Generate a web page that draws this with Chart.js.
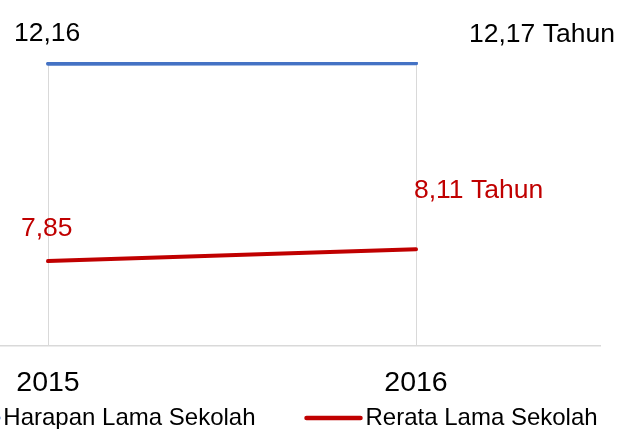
<!DOCTYPE html>
<html>
<head>
<meta charset="utf-8">
<script src="https://cdn.jsdelivr.net/npm/chart.js@4.4.1/dist/chart.umd.min.js"></script>
<style>
body { margin: 0; background: #fff; overflow: hidden; }
#wrap { position: absolute; left: -140px; top: 0; width: 760px; height: 429px; }
</style>
</head>
<body>
<div id="wrap"><canvas id="myChart"></canvas></div>
<script>
let years = ['2015', '2016'];
let seriesNames = ['Harapan Lama Sekolah', 'Rerata Lama Sekolah'];
let harapan = [12.16, 12.17];
let rerata = [7.85, 8.11];
let yMin = 6;
let yMax = 12.2;
let unit = ' Tahun';

let blue = '#4472C4';
let red = '#C00000';
let fontName = '"Liberation Sans", Arial, sans-serif';

// labels in the reference are placed by hand, so keep an offset per point
let labelOffsets = [
    [[-34, -23], [53, -21]],
    [[-27, -25], [-2, -51]]
];
let labelColors = ['#000000', red];

function fmt(v, i, n) {
    let s = v.toFixed(2).replace('.', ',');
    if (i == n - 1) s += unit;
    return s;
}

const valueLabels = {
    id: 'valueLabels',
    afterDatasetsDraw(chart) {
        const c = chart.ctx;
        c.save();
        c.font = '26.5px ' + fontName;
        c.textAlign = 'left';
        c.textBaseline = 'alphabetic';
        chart.data.datasets.forEach((ds, d) => {
            chart.getDatasetMeta(d).data.forEach((pt, i) => {
                let off = labelOffsets[d][i];
                c.fillStyle = labelColors[d];
                c.fillText(fmt(ds.data[i], i, ds.data.length), pt.x + off[0], pt.y + off[1]);
            });
        });
        c.restore();
    }
};

// legend sits off-centre and partly outside the picture, so it is drawn here
const bottomLegend = {
    id: 'bottomLegend',
    afterDraw(chart) {
        const c = chart.ctx;
        const lineLen = 54, textGap = 5, itemGap = 51;
        const centerX = 411, lineY = 418, baseY = 425;
        c.save();
        c.font = '24px ' + fontName;
        let items = chart.data.datasets.map(ds => ({ ds: ds, w: c.measureText(ds.label).width }));
        let total = 0;
        items.forEach((it, i) => { total += lineLen + textGap + it.w + (i < items.length - 1 ? itemGap : 0); });
        let x = centerX - total / 2;
        items.forEach(it => {
            c.strokeStyle = it.ds.borderColor;
            c.lineWidth = 4.5;
            c.lineCap = 'round';
            c.beginPath();
            c.moveTo(x, lineY);
            c.lineTo(x + lineLen, lineY);
            c.stroke();
            x += lineLen + textGap;
            c.fillStyle = '#000000';
            c.textBaseline = 'alphabetic';
            c.fillText(it.ds.label, x, baseY);
            x += it.w + itemGap;
        });
        c.restore();
    }
};

const ctx = document.getElementById('myChart');

new Chart(ctx, {
    type: 'line',
    data: {
        labels: years,
        datasets: [{
            label: seriesNames[0],
            data: harapan,
            borderColor: blue,
            backgroundColor: blue,
            borderWidth: 4,
            borderCapStyle: 'round',
            pointRadius: 0,
            tension: 0
        }, {
            label: seriesNames[1],
            data: rerata,
            borderColor: red,
            backgroundColor: red,
            borderWidth: 4,
            borderCapStyle: 'round',
            pointRadius: 0,
            tension: 0
        }]
    },
    options: {
        responsive: true,
        maintainAspectRatio: false,
        animation: false,
        layout: {
            padding: { left: 4, right: 20, top: 62, bottom: 9 }
        },
        plugins: {
            legend: { display: false },
            tooltip: { enabled: false }
        },
        scales: {
            x: {
                offset: true,
                grid: { color: '#d9d9d9', lineWidth: 1, drawTicks: false },
                border: { color: '#d9d9d9', width: 1.5 },
                ticks: {
                    color: '#000000',
                    padding: 20,
                    font: { family: fontName, size: 28.5 }
                }
            },
            y: {
                display: false,
                min: yMin,
                max: yMax
            }
        }
    },
    plugins: [valueLabels, bottomLegend]
});
</script>
</body>
</html>
